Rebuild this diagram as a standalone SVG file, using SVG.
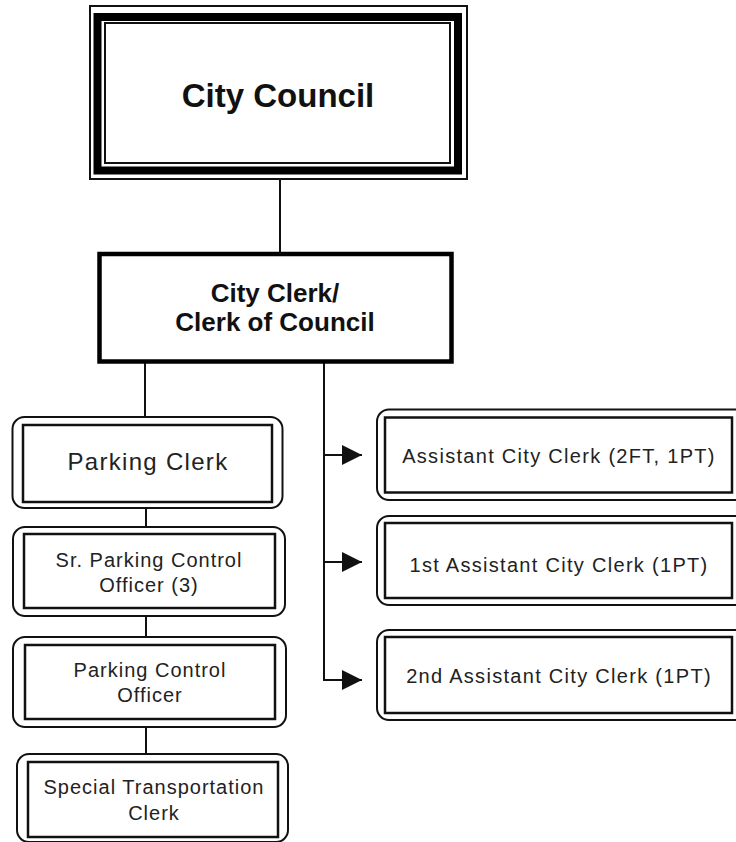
<svg xmlns="http://www.w3.org/2000/svg" width="736" height="842" viewBox="0 0 736 842">
<defs>
<style>
.bg{fill:#fff}
.o{fill:#fff;stroke:#111;stroke-width:2}
.i{fill:#fff;stroke:#111;stroke-width:2.5}
.c{fill:none;stroke:#111;stroke-width:2}
.tb{font-family:"Liberation Sans",Arial,sans-serif;font-weight:bold;fill:#111;text-anchor:middle}
.t{font-family:"Liberation Sans",Arial,sans-serif;fill:#222;text-anchor:middle;font-size:20px;letter-spacing:1px}
</style>
<marker id="ah" markerWidth="20" markerHeight="20" refX="20" refY="10" orient="auto" markerUnits="userSpaceOnUse">
<path d="M0,0 L20,10 L0,20 Z" fill="#111"/>
</marker>
</defs>
<rect class="bg" x="0" y="0" width="736" height="842"/>
<g id="connectors">
<line class="c" x1="280" y1="179" x2="280" y2="254"/>
<line class="c" x1="145" y1="362" x2="145" y2="425"/>
<line class="c" x1="146" y1="502" x2="146" y2="534"/>
<line class="c" x1="146" y1="608" x2="146" y2="645"/>
<line class="c" x1="146" y1="719" x2="146" y2="762"/>
<path class="c" d="M324,362 V680 H342"/>
<line class="c" x1="324" y1="455" x2="362" y2="455" marker-end="url(#ah)"/>
<line class="c" x1="324" y1="562" x2="362" y2="562" marker-end="url(#ah)"/>
<line class="c" x1="324" y1="680" x2="362" y2="680" marker-end="url(#ah)"/>
</g>
<g id="city-council">
<rect x="90" y="6" width="377" height="173" fill="#fff" stroke="#111" stroke-width="2"/>
<rect x="97.5" y="17" width="360.5" height="153.5" fill="none" stroke="#000" stroke-width="8"/>
<rect x="105" y="23" width="345" height="140" fill="#fff" stroke="#111" stroke-width="2"/>
<text class="tb" x="278" y="107" font-size="33">City Council</text>
</g>
<g id="city-clerk">
<rect x="99.5" y="254" width="352" height="107.5" fill="#fff" stroke="#000" stroke-width="4.5"/>
<text class="tb" x="275" y="302" font-size="26">City Clerk/</text>
<text class="tb" x="275" y="331" font-size="26">Clerk of Council</text>
</g>
<g id="parking-clerk">
<rect class="o" x="12.5" y="417" width="270" height="91" rx="12"/>
<rect class="i" x="23" y="425" width="249" height="77"/>
<text class="t" x="148" y="470" font-size="24" style="font-size:24px;letter-spacing:1.3px">Parking Clerk</text>
</g>
<g id="sr-parking-control-officer">
<rect class="o" x="13" y="527" width="272" height="89" rx="12"/>
<rect class="i" x="24" y="534" width="251" height="74"/>
<text class="t" x="149" y="567">Sr. Parking Control</text>
<text class="t" x="149" y="592">Officer (3)</text>
</g>
<g id="parking-control-officer">
<rect class="o" x="13" y="637" width="273" height="90" rx="12"/>
<rect class="i" x="25" y="645" width="250" height="74"/>
<text class="t" x="150" y="677">Parking Control</text>
<text class="t" x="150" y="702">Officer</text>
</g>
<g id="special-transportation-clerk">
<rect class="o" x="17" y="754" width="271" height="88" rx="12"/>
<rect class="i" x="28" y="762" width="250" height="75"/>
<text class="t" x="154" y="794">Special Transportation</text>
<text class="t" x="154" y="820">Clerk</text>
</g>
<g id="assistant-city-clerk">
<rect class="o" x="377" y="409.5" width="370" height="90.5" rx="12"/>
<rect class="i" x="385" y="417.5" width="347" height="75"/>
<text class="t" x="559" y="463" style="letter-spacing:1.3px">Assistant City Clerk (2FT, 1PT)</text>
</g>
<g id="first-assistant-city-clerk">
<rect class="o" x="377" y="516" width="370" height="89" rx="12"/>
<rect class="i" x="385" y="523" width="347" height="75"/>
<text class="t" x="559" y="572" style="letter-spacing:1.3px">1st Assistant City Clerk (1PT)</text>
</g>
<g id="second-assistant-city-clerk">
<rect class="o" x="377" y="630" width="370" height="90" rx="12"/>
<rect class="i" x="385" y="637" width="347" height="76"/>
<text class="t" x="559" y="683" style="letter-spacing:1.3px">2nd Assistant City Clerk (1PT)</text>
</g>
</svg>
